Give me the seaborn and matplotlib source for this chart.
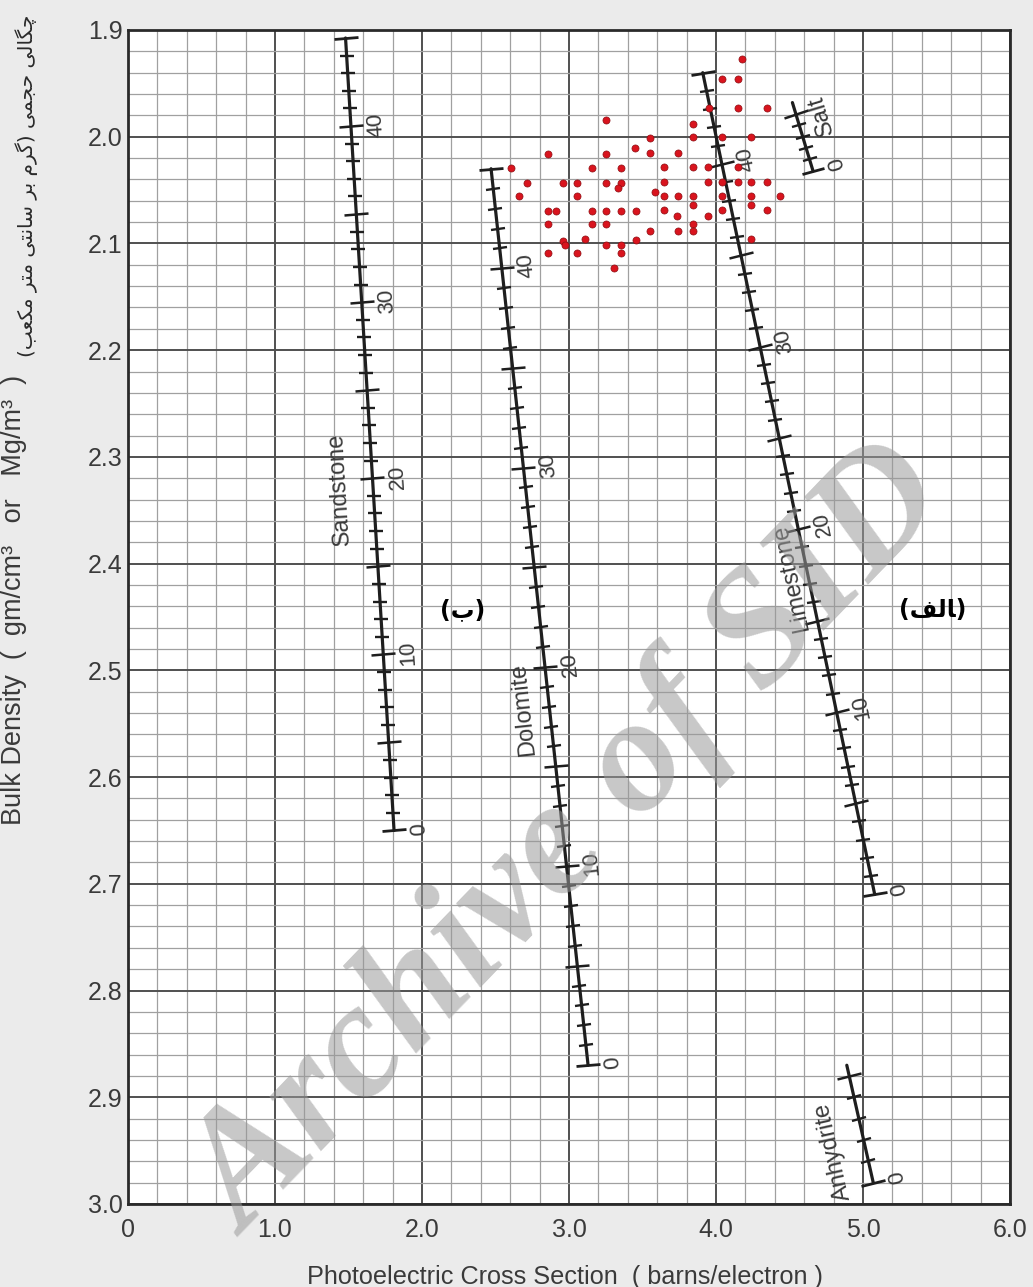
import numpy as np
import pandas as pd
import matplotlib
matplotlib.use("Agg")
import matplotlib.pyplot as plt
import seaborn as sns
from matplotlib.markers import MarkerStyle
from matplotlib.transforms import Affine2D

# ---------------- data ----------------
lithology = ["Sandstone", "Dolomite", "Limestone", "Salt", "Anhydrite"]
pe_matrix = [1.81, 3.13, 5.08, 4.66, 5.07]        # Pe at zero porosity
rho_matrix = [2.65, 2.87, 2.71, 2.032, 2.98]      # density at zero porosity
pe_end = [1.48, 2.47, 3.91, 4.52, 4.89]           # Pe at upper end of scale
rho_end = [1.9075, 2.03, 1.94, 1.968, 2.87]       # density at upper end of scale
phi_end = [45, 45, 45, 6, 5.5]                    # porosity (%) at upper end
phi_tick_max = [45, 45, 45, 5, 5]
phi_number_labels = [10, 20, 30, 40]

sample_pe = [3.255, 3.448, 2.857, 3.255, 2.606, 3.159, 3.357, 2.713, 2.959, 3.055,
             3.255, 3.357, 3.334, 2.659, 3.055, 2.857, 2.913, 3.159, 3.255, 3.357,
             3.455, 2.857, 3.159, 3.255, 2.959, 2.970, 3.107, 3.255, 3.357, 3.455,
             2.857, 3.055, 3.357, 3.304,
             4.177, 4.041, 4.148, 3.950, 4.148, 4.346, 3.845, 3.549, 3.845, 4.041,
             4.239, 3.549, 3.745, 3.647, 3.845, 3.943, 4.148, 3.647, 3.943, 4.041,
             4.148, 4.239, 4.346, 3.586, 3.647, 3.745, 3.845, 4.041, 4.239, 4.437,
             3.845, 4.239, 3.647, 4.041, 4.346, 3.732, 3.943, 3.845, 3.549, 3.745,
             3.845, 4.239]
sample_rho = [1.984, 2.011, 2.016, 2.016, 2.029, 2.029, 2.029, 2.043, 2.043, 2.043,
              2.043, 2.043, 2.048, 2.056, 2.056, 2.070, 2.070, 2.070, 2.070, 2.070,
              2.070, 2.082, 2.082, 2.082, 2.098, 2.101, 2.096, 2.101, 2.101, 2.097,
              2.109, 2.109, 2.109, 2.123,
              1.927, 1.946, 1.946, 1.973, 1.973, 1.973, 1.988, 2.001, 2.000, 2.000,
              2.000, 2.015, 2.015, 2.028, 2.028, 2.028, 2.028, 2.042, 2.042, 2.042,
              2.042, 2.042, 2.042, 2.052, 2.056, 2.056, 2.056, 2.056, 2.056, 2.056,
              2.064, 2.064, 2.069, 2.069, 2.069, 2.074, 2.074, 2.082, 2.088, 2.088,
              2.088, 2.096]

x_ticks = [0, 1, 2, 3, 4, 5, 6]
x_ticklabels = ["0", "1.0", "2.0", "3.0", "4.0", "5.0", "6.0"]
y_ticks = [1.9, 2.0, 2.1, 2.2, 2.3, 2.4, 2.5, 2.6, 2.7, 2.8, 2.9, 3.0]
y_ticklabels = ["1.9", "2.0", "2.1", "2.2", "2.3", "2.4", "2.5", "2.6", "2.7", "2.8", "2.9", "3.0"]

x_title = "Photoelectric Cross Section  ( barns/electron )"
y_title_en = "Bulk Density  (  gm/cm\u00b3   or   Mg/m\u00b3  )"
# Persian part, written in visual order with Arabic presentation forms
_w1 = "\uFBFD\uFEDF\uFE8E\uFB95\uFB7C"      # چگالی
_w2 = "\uFBFD\uFEE4\uFEA0\uFEA3"            # حجمی
_w3 = "\uFEE1\uFEAE\uFB94"                  # گرم
_w4 = "\uFEAE\uFE91"                        # بر
_w5 = "\uFBFD\uFE98\uFEE7\uFE8E\uFEB3"      # سانتی
_w6 = "\uFEAE\uFE98\uFEE3"                  # متر
_w7 = "\uFE90\uFECC\uFB91\uFEE3"            # مکعب
y_title_fa = "(" + _w7 + " " + _w6 + " " + _w5 + " " + _w4 + " " + _w3 + ") " + _w2 + " " + _w1
label_b = "(\uFE8F)"                        # (ب)
label_alef = "(\uFED2\uFEDF\uFE8E)"         # (الف)
watermark = "Archive of SID"

# ---------------- style ----------------
sns.set_theme(style="white")
plt.rcParams['font.family'] = ['Liberation Sans', 'DejaVu Sans']

fig = plt.figure(figsize=(10.33, 12.87), dpi=100, facecolor='#ebebeb')
ax = fig.add_axes([0.1239, 0.0645, 0.8538, 0.9122])
ax.set_facecolor('white')
ax.set_xlim(0, 6)
ax.set_ylim(3.0, 1.9)

ax.set_xticks(x_ticks)
ax.set_xticklabels(x_ticklabels)
ax.set_yticks(y_ticks)
ax.set_yticklabels(y_ticklabels)
ax.set_xticks(np.arange(0, 6.001, 0.2), minor=True)
ax.set_yticks(np.arange(1.9, 3.0001, 0.02), minor=True)
ax.grid(which='minor', color='#a0a0a0', lw=0.9, zorder=0)
ax.grid(which='major', color='#505050', lw=1.4, zorder=0)
ax.set_axisbelow(True)
ax.tick_params(which='both', length=0)
ax.tick_params(axis='x', pad=10, labelsize=18, labelcolor='#3a3a3a')
ax.tick_params(axis='y', pad=4, labelsize=18, labelcolor='#3a3a3a')
for s in ax.spines.values():
    s.set_color('#2a2a2a')
    s.set_linewidth(2)

ax.set_xlabel(x_title, fontsize=18.2, color='#3a3a3a')
ax.xaxis.set_label_coords(0.495, -0.052)
ax.set_ylabel(y_title_en, fontsize=19.5, color='#3a3a3a')
ax.yaxis.set_label_coords(-0.1145, 0.5145)
ax.text(-0.1145, 0.867, y_title_fa, transform=ax.transAxes, rotation=90,
        ha='center', va='center', fontsize=14.5, color='#2a2a2a', family='DejaVu Sans')

# ---------------- lithology lines ----------------
rows = []
for i, name in enumerate(lithology):
    rows.append({"lithology": name, "pe": pe_matrix[i], "rho": rho_matrix[i]})
    rows.append({"lithology": name, "pe": pe_end[i], "rho": rho_end[i]})
lines_df = pd.DataFrame(rows)
sns.lineplot(data=lines_df, x="pe", y="rho", units="lithology", estimator=None,
             sort=False, color='#1e1e1e', lw=2.3, ax=ax, zorder=3, legend=False)


def disp_angle(x0, y0, x1, y1):
    p0 = ax.transData.transform((x0, y0))
    p1 = ax.transData.transform((x1, y1))
    return np.degrees(np.arctan2(p1[1] - p0[1], p1[0] - p0[0]))


name_pos = {"Sandstone": (19.5, -34), "Dolomite": (18.0, -26), "Limestone": (17.5, -17),
            "Salt": (4.3, 24), "Anhydrite": (1.8, -32)}

for i, name in enumerate(lithology):
    x0, y0, x1, y1 = pe_matrix[i], rho_matrix[i], pe_end[i], rho_end[i]
    ang = disp_angle(x0, y0, x1, y1)
    perp = MarkerStyle('_', transform=Affine2D().rotate_deg(ang - 90))
    phis = np.arange(0, phi_tick_max[i] + 1)
    frac = phis / phi_end[i]
    tx = x0 + (x1 - x0) * frac
    ty = y0 + (y1 - y0) * frac
    minor = (phis % 5 != 0)
    major = (phis % 5 == 0) & (phis != 0) & (phis != phi_end[i])
    caps = (phis == 0) | (phis == phi_end[i])
    ax.plot(tx[minor], ty[minor], ls='none', marker=perp, ms=10, mew=1.7, color='#1e1e1e', zorder=3)
    ax.plot(tx[major], ty[major], ls='none', marker=perp, ms=18, mew=1.8, color='#1e1e1e', zorder=3)
    ax.plot(tx[caps], ty[caps], ls='none', marker=perp, ms=17, mew=2.0, color='#1e1e1e', zorder=3)

    r = np.radians(ang - 90)
    # numbers
    nums = [0] + ([p for p in phi_number_labels if p <= phi_tick_max[i]])
    for p in nums:
        f = p / phi_end[i]
        px, py = x0 + (x1 - x0) * f, y0 + (y1 - y0) * f
        d = 18
        ax.annotate(str(p), xy=(px, py), xytext=(d * np.cos(r), d * np.sin(r)),
                    textcoords='offset points', rotation=ang, rotation_mode='anchor',
                    ha='center', va='center', fontsize=16, color='#3a3a3a', zorder=4)
    # name
    p, d = name_pos[name]
    f = p / phi_end[i]
    px, py = x0 + (x1 - x0) * f, y0 + (y1 - y0) * f
    ax.annotate(name, xy=(px, py), xytext=(d * 0.72 * np.cos(r), d * 0.72 * np.sin(r)),
                textcoords='offset points', rotation=ang, rotation_mode='anchor',
                ha='center', va='center', fontsize=17, color='#3a3a3a', zorder=4)

# ---------------- samples ----------------
sns.scatterplot(x=sample_pe, y=sample_rho, ax=ax, color='#d9141e', s=26,
                edgecolor='#8c0f14', linewidth=0.5, zorder=5, legend=False)

# ---------------- Persian markers ----------------
ax.text(0.379, 0.506, label_b, transform=ax.transAxes, ha='center', va='center',
        fontsize=17, fontweight='bold', color='black', family='DejaVu Sans', zorder=6)
ax.text(0.912, 0.506, label_alef, transform=ax.transAxes, ha='center', va='center',
        fontsize=17, fontweight='bold', color='black', family='DejaVu Sans', zorder=6)

# ---------------- watermark ----------------
fig.text(0.553, 0.345, watermark, rotation=46, ha='center', va='center',
         fontsize=118, family='Liberation Serif', fontweight='bold', style='italic',
         color='#9a9a9a', alpha=0.55, zorder=20)

fig.savefig("out.png", dpi=100, facecolor=fig.get_facecolor())
